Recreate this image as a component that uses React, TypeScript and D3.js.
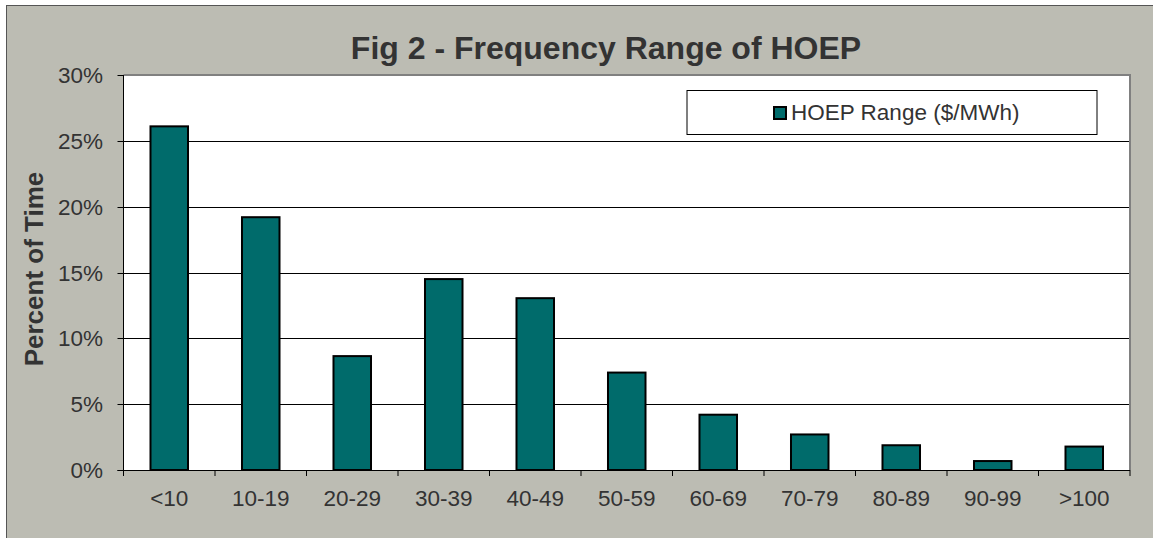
import React from "react";
import * as d3 from "d3";

const categories = ["<10", "10-19", "20-29", "30-39", "40-49", "50-59", "60-69", "70-79", "80-89", "90-99", ">100"];
const values = [26.1, 19.2, 8.65, 14.5, 13.05, 7.4, 4.2, 2.7, 1.88, 0.68, 1.78];
const yTicks = [0, 5, 10, 15, 20, 25, 30];
const seriesName = "HOEP Range ($/MWh)";
const title = "Fig 2 - Frequency Range of HOEP";
const yLabel = "Percent of Time";

const W = 1153, H = 538;
const L = 123.5, R = 1130, T = 75, B = 470;

export default function App() {
  const x = d3.scaleBand<string>().domain(categories).range([L, R]).paddingInner(0.59).paddingOuter(0.295);
  const xb = d3.scaleBand<string>().domain(categories).range([L, R]);
  const y = d3.scaleLinear().domain([0, 30]).range([B, T]);
  const font = "'Liberation Sans', Arial, sans-serif";
  return (
    <svg width={W} height={H} style={{ position: "absolute", left: 0, top: 0, display: "block" }} fontFamily={font}>
      <rect x={0} y={0} width={W} height={H} fill="#ffffff" />
      <rect x={6.5} y={5.5} width={W + 10} height={H + 10} fill="#BCBCB3" stroke="#555" strokeWidth={1} />
      <rect x={L} y={T} width={R - L} height={B - T} fill="#ffffff" />
      {yTicks.filter(t => t > 0 && t < 30).map(t => (
        <line key={t} x1={L} x2={R} y1={Math.round(y(t)) + 0.5} y2={Math.round(y(t)) + 0.5} stroke="#000" strokeWidth={1} />
      ))}
      {/* top & right plot border */}
      <line x1={L} x2={R + 1} y1={T} y2={T} stroke="#808080" strokeWidth={2} />
      <line x1={R} x2={R} y1={T} y2={B} stroke="#808080" strokeWidth={2} />
      {categories.map((c, i) => (
        <rect key={c} x={x(c)!} y={y(values[i])} width={x.bandwidth()} height={B - y(values[i])}
          fill="#006B6B" stroke="#000" strokeWidth={2} />
      ))}
      {/* axes */}
      <line x1={L} x2={L} y1={T} y2={B} stroke="#000" strokeWidth={1} />
      <line x1={L - 6} x2={R} y1={B + 0.5} y2={B + 0.5} stroke="#000" strokeWidth={1} />
      {yTicks.map(t => (
        <g key={t}>
          <line x1={L - 6} x2={L} y1={Math.round(y(t)) + 0.5} y2={Math.round(y(t)) + 0.5} stroke="#000" />
          <text x={103} y={y(t)} dy="0.36em" textAnchor="end" fontSize={22.5} fill="#333">{t}%</text>
        </g>
      ))}
      {categories.map((c, i) => (
        <g key={c}>
          <line x1={xb(c)! + xb.bandwidth()} x2={xb(c)! + xb.bandwidth()} y1={B} y2={B + 6} stroke="#000" />
          {i === 0 && <line x1={L} x2={L} y1={B} y2={B + 6} stroke="#000" />}
          <text x={xb(c)! + xb.bandwidth() / 2} y={506} textAnchor="middle" fontSize={22.5} fill="#333">{c}</text>
        </g>
      ))}
      <text x={606} y={59} textAnchor="middle" fontSize={32} fontWeight="bold" fill="#333">{title}</text>
      <text transform={`translate(43,269) rotate(-90)`} textAnchor="middle" fontSize={26} fontWeight="bold" fill="#333">{yLabel}</text>
      <rect x={687} y={90.5} width={410} height={44} fill="#fff" stroke="#000" strokeWidth={1} />
      <rect x={774} y={107} width={12} height={12} fill="#006B6B" stroke="#000" strokeWidth={2} />
      <text x={791} y={119.5} fontSize={22.5} fill="#333">{seriesName}</text>
    </svg>
  );
}
